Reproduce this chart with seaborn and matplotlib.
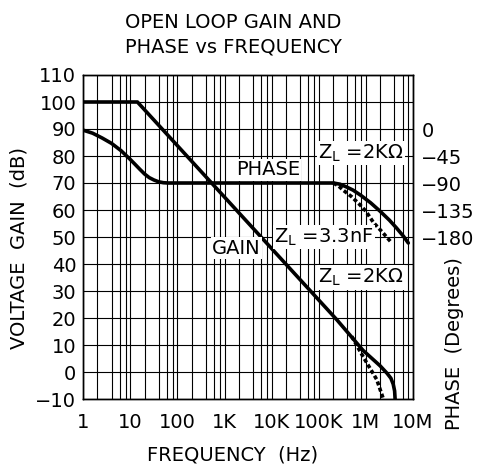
import numpy as np
import pandas as pd
import seaborn as sns
from matplotlib import pyplot as plt
from matplotlib.ticker import FixedLocator, NullFormatter

# gain curves (dB) vs frequency (Hz)
gain_freq = [1, 14.1, 2.4e5, 8.7e5, 2.0e6, 2.82e6, 3.39e6, 3.8e6, 4.07e6, 4.17e6]
gain_db = [100, 100, 19.4, 8, 2.3, -0.5, -2.3, -4.5, -7, -10]

gain_cap_freq = [5.0e5, 8.7e5, 1.7e6, 2.35e6]
gain_cap_db = [13.2, 5.7, -2.8, -10]

# phase curves (degrees) vs frequency (Hz)
phase_freq = [1, 1.58, 2.51, 3.98, 6.31, 10, 12.6, 15.8, 20, 25.1, 31.6, 39.8, 50.1, 63.1, 100,
              2.04e5, 2.82e5, 3.98e5, 5.37e5, 7.94e5, 1.26e6, 2.0e6, 3.16e6, 4.47e6, 6.31e6, 7.94e6]
phase_deg = [-2, -7, -15, -24, -36, -51, -59, -67, -75, -81, -85, -88, -89.5, -90, -90,
             -90, -92, -97, -102, -111, -123, -137, -152, -165, -179, -190]

phase_cap_freq = [2.04e5, 2.63e5, 3.3e5, 5.0e5, 7.4e5, 1.0e6, 1.45e6, 2.24e6, 3.55e6]
phase_cap_deg = [-90, -95, -102, -113, -126, -137, -156, -172, -190]

x_ticks = [1, 10, 100, 1e3, 1e4, 1e5, 1e6, 1e7]
x_labels = ["1", "10", "100", "1K", "10K", "100K", "1M", "10M"]
gain_ticks = list(range(-10, 111, 10))
phase_ticks = [0, -45, -90, -135, -180]
phase_labels = ["0", "\u221245", "\u221290", "\u2212135", "\u2212180"]

sns.set_style("white")
plt.rcParams['font.family'] = ['DejaVu Sans']
for k in ("text.color", "axes.labelcolor", "xtick.color", "ytick.color"):
    plt.rcParams[k] = "black"
fs = 14

fig = plt.figure(figsize=(4.81, 4.69), dpi=100)
ax = fig.add_axes([83.3 / 481, 1 - 399 / 469, (413 - 83.3) / 481, (399 - 75) / 469])
ax.set_xscale('log')
ax2 = ax.twinx()

df_gain = pd.DataFrame({"f": gain_freq, "g": gain_db})
df_gain_cap = pd.DataFrame({"f": gain_cap_freq, "g": gain_cap_db})
df_phase = pd.DataFrame({"f": phase_freq, "p": phase_deg})
df_phase_cap = pd.DataFrame({"f": phase_cap_freq, "p": phase_cap_deg})

sns.lineplot(data=df_gain, x="f", y="g", ax=ax, color="black", linewidth=2.6,
             estimator=None, sort=False)
sns.lineplot(data=df_gain_cap, x="f", y="g", ax=ax, color="black", linewidth=2.6,
             estimator=None, sort=False, linestyle=(0, (1.1, 0.7)))
sns.lineplot(data=df_phase, x="f", y="p", ax=ax2, color="black", linewidth=2.6,
             estimator=None, sort=False)
sns.lineplot(data=df_phase_cap, x="f", y="p", ax=ax2, color="black", linewidth=2.6,
             estimator=None, sort=False, linestyle=(0, (1.1, 0.7)))

ax.set_xlim(1, 1e7)
ax.set_ylim(-10, 110)
ax2.set_ylim(-450, 90)

ax.xaxis.set_major_locator(FixedLocator(x_ticks))
ax.set_xticklabels(x_labels)
minor = [m * d for d in x_ticks[:-1] for m in (2, 4, 6, 8)]
ax.xaxis.set_minor_locator(FixedLocator(minor))
ax.xaxis.set_minor_formatter(NullFormatter())
ax.set_yticks(gain_ticks)
ax2.set_yticks(phase_ticks)
ax2.set_yticklabels(phase_labels)

ax.grid(True, which="both", axis="x", color="black", linewidth=0.8)
ax.grid(True, which="major", axis="y", color="black", linewidth=0.8)
ax.tick_params(axis="both", which="both", length=0, labelsize=fs)
ax.tick_params(axis="x", pad=10)
ax.tick_params(axis="y", pad=5)
ax2.tick_params(axis="y", length=0, labelsize=fs, pad=6)
for a in (ax, ax2):
    for s in a.spines.values():
        s.set_color("black")
        s.set_linewidth(1.0)
ax.set_xlabel("")
ax.set_ylabel("")
ax2.set_ylabel("")
ax.set_zorder(ax2.get_zorder() + 1)
ax.patch.set_visible(False)
ax2.patch.set_visible(True)
ax2.patch.set_facecolor("white")

box = dict(facecolor="white", edgecolor="none", pad=1)
ax.text(8.3e3, 74.9, "PHASE", fontsize=fs, ha="center", va="center", bbox=box)
ax.text(1.8e3, 45.9, "GAIN", fontsize=fs, ha="center", va="center", bbox=box)
ax.text(7.8e5, 81, "Z$_\\mathregular{L}$ =2K$\\Omega$", fontsize=fs, ha="center", va="center", bbox=box)
ax.text(1.29e5, 49.9, "Z$_\\mathregular{L}$ =3.3nF", fontsize=fs, ha="center", va="center", bbox=box)
ax.text(7.8e5, 35, "Z$_\\mathregular{L}$ =2K$\\Omega$", fontsize=fs, ha="center", va="center", bbox=box)

fig.text(233 / 481, 1 - 35 / 469, "OPEN LOOP GAIN AND\nPHASE vs FREQUENCY", fontsize=fs,
         ha="center", va="center", linespacing=1.35)
fig.text(19 / 481, 1 - 248 / 469, "VOLTAGE  GAIN  (dB)", fontsize=fs, rotation=90,
         ha="center", va="center")
fig.text(455 / 481, 1 - 344 / 469, "PHASE  (Degrees)", fontsize=fs, rotation=90,
         ha="center", va="center")
fig.text(233 / 481, 1 - 455 / 469, "FREQUENCY  (Hz)", fontsize=fs, ha="center", va="center")

fig.savefig("out.png", dpi=100)
